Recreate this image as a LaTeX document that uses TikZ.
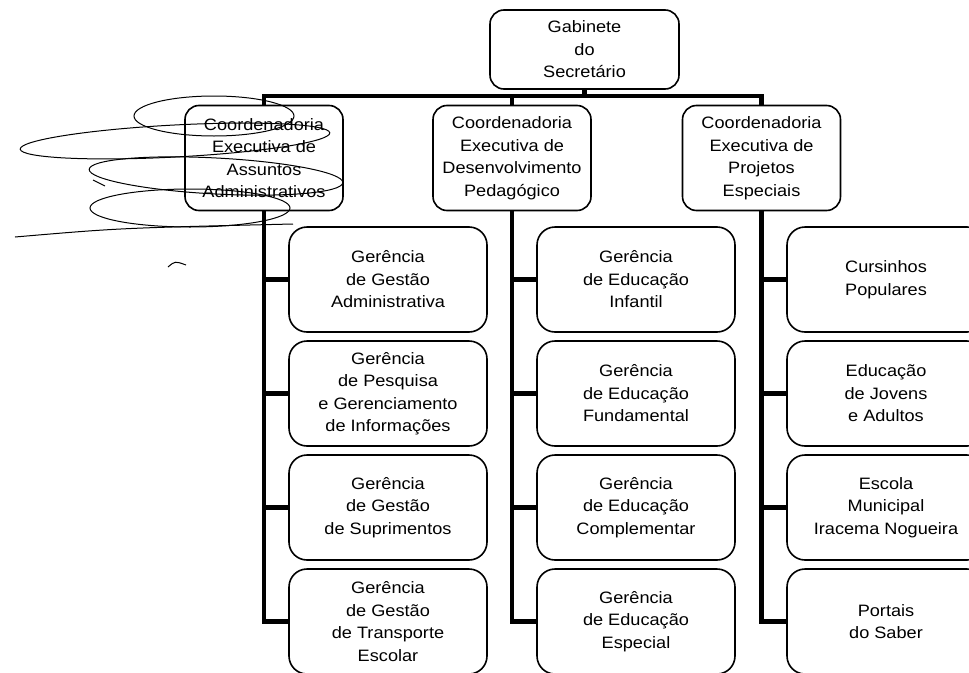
\documentclass[tikz,border=0pt]{standalone}
\usepackage{fontspec}
\setmainfont[FakeStretch=1.1]{Liberation Sans}
\begin{document}
\begin{tikzpicture}[x=1pt, y=-1pt,
  caixa/.style={draw, line width=1.6pt, rounded corners=18pt, align=center, inner sep=0pt,
    minimum width=198pt, minimum height=105pt, font=\fontsize{16.5}{22.5}\selectfont},
  coord/.style={caixa, rounded corners=14pt, minimum width=158pt,
    execute at begin node={\rule{0pt}{19pt}}},
  elo/.style={line width=4.5pt},
  rabisco/.style={line width=1pt}]
\useasboundingbox (0,0) rectangle (969,672);
\clip (0,0) rectangle (969,672);
\node[coord, minimum width=189pt, minimum height=79pt] (gab) at (584.5,49.5) {Gabinete\\do\\Secretário};
\node[coord] (coordA) at (264,158) {Coordenadoria\\Executiva de\\Assuntos\\Administrativos};
\node[coord] (coordD) at (512,158) {Coordenadoria\\Executiva de\\Desenvolvimento\\Pedagógico};
\node[coord] (coordP) at (761.5,158) {Coordenadoria\\Executiva de\\Projetos\\Especiais};
\foreach \t [count=\i] in {{Gerência\\de Gestão\\Administrativa},
    {Gerência\\de Pesquisa\\e Gerenciamento\\de Informações},
    {Gerência\\de Gestão\\de Suprimentos},
    {Gerência\\de Gestão\\de Transporte\\Escolar}}
  \node[caixa] (gerA\i) at (388,{279.5+114*(\i-1)}) {\t};
\foreach \t [count=\i] in {{Gerência\\de Educação\\Infantil},
    {Gerência\\de Educação\\Fundamental},
    {Gerência\\de Educação\\Complementar},
    {Gerência\\de Educação\\Especial}}
  \node[caixa] (gerD\i) at (636,{279.5+114*(\i-1)}) {\t};
\foreach \t [count=\i] in {{Cursinhos\\Populares},
    {Educação\\de Jovens\\e Adultos},
    {Escola\\Municipal\\Iracema Nogueira},
    {Portais\\do Saber}}
  \node[caixa] (proj\i) at (886,{279.5+114*(\i-1)}) {\t};
\coordinate (bus) at (0,96);
\draw[elo] (gab.south) -- (gab.south |- bus);
\draw[elo] (coordA.north) -- (coordA.north |- bus) -- (coordP.north |- bus) -- (coordP.north);
\draw[elo] (coordD.north) -- (coordD.north |- bus);
\foreach \c/\g in {coordA/gerA, coordD/gerD, coordP/proj} {
  \draw[elo] (\c.south) |- (\g4.west);
  \foreach \i in {1,2,3} \draw[elo] (\c.south |- \g\i.west) -- (\g\i.west);
}
% rabiscos a caneta sobre a primeira coordenadoria
\draw[rabisco] (214,116) ellipse [x radius=80, y radius=20];
\draw[rabisco, rotate around={3:(175,141)}] (175,141) ellipse [x radius=155, y radius=16];
\draw[rabisco, rotate around={-3:(216,176)}] (216,176) ellipse [x radius=127, y radius=18];
\draw[rabisco] (190,208) ellipse [x radius=100, y radius=19];
\draw[rabisco] (15,237) .. controls (120,228) .. (293,224);
\draw[rabisco] (168,267) .. controls (175,261) .. (186,265);
\draw[rabisco] (93,180) -- (105,186);
\end{tikzpicture}
\end{document}
